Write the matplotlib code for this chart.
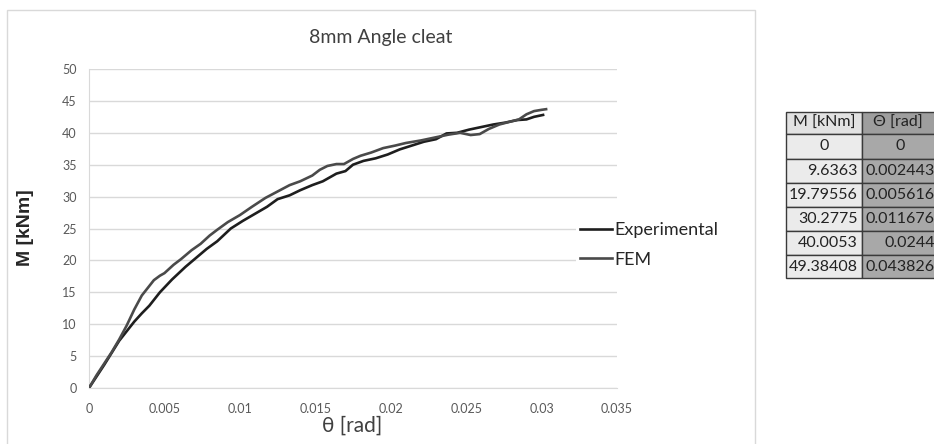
import matplotlib
matplotlib.use("Agg")
import matplotlib.pyplot as plt
from matplotlib.patches import Rectangle

plt.rcParams['font.family'] = ['Lato', 'DejaVu Sans']

# ---------------- data ----------------
exp_theta = [0, 0.0005, 0.001, 0.0015, 0.002, 0.0025, 0.003, 0.0035, 0.004, 0.0047,
             0.0055, 0.0064, 0.007, 0.0078, 0.0085, 0.0094, 0.0102, 0.011, 0.0118, 0.0125,
             0.0133, 0.014, 0.0148, 0.0155, 0.0164, 0.017, 0.0175, 0.0182, 0.019, 0.0198,
             0.0206, 0.0214, 0.0222, 0.023, 0.0237, 0.0244, 0.0252, 0.026, 0.0268, 0.0276,
             0.0284, 0.029, 0.0295, 0.0301]
exp_M = [0, 1.8, 3.6, 5.5, 7.4, 8.9, 10.4, 11.7, 12.9, 15.0,
         17.0, 19.0, 20.2, 21.8, 23.0, 25.0, 26.2, 27.3, 28.4, 29.6,
         30.2, 31.0, 31.8, 32.4, 33.6, 34.0, 35.0, 35.6, 36.0, 36.6,
         37.4, 38.0, 38.6, 39.0, 39.9, 40.0, 40.5, 40.9, 41.3, 41.6,
         42.0, 42.1, 42.5, 42.8]

fem_theta = [0, 0.0005, 0.001, 0.0015, 0.002, 0.0025, 0.003, 0.0035, 0.004, 0.0043,
             0.0047, 0.005, 0.0056, 0.0061, 0.0068, 0.0074, 0.008, 0.0085, 0.0092, 0.01,
             0.0108, 0.0117, 0.0125, 0.0133, 0.014, 0.0148, 0.0153, 0.0158, 0.0164, 0.0169,
             0.0175, 0.018, 0.0187, 0.0195, 0.0203, 0.021, 0.022, 0.023, 0.0238, 0.0246,
             0.0253, 0.0259, 0.0265, 0.0272, 0.028, 0.0285, 0.029, 0.0295, 0.03, 0.0303]
fem_M = [0, 2.0, 3.8, 5.6, 7.6, 9.8, 12.3, 14.5, 16.0, 16.9,
         17.6, 18.0, 19.3, 20.2, 21.6, 22.6, 23.9, 24.8, 26.0, 27.1,
         28.4, 29.8, 30.8, 31.8, 32.4, 33.3, 34.2, 34.8, 35.1, 35.1,
         35.9, 36.4, 36.9, 37.6, 38.0, 38.4, 38.8, 39.3, 39.7, 40.0,
         39.65, 39.8, 40.6, 41.3, 41.8, 42.1, 42.9, 43.4, 43.6, 43.7]

x_ticks = [0, 0.005, 0.01, 0.015, 0.02, 0.025, 0.03, 0.035]
x_ticklabels = ['0', '0.005', '0.01', '0.015', '0.02', '0.025', '0.03', '0.035']
y_ticks = [0, 5, 10, 15, 20, 25, 30, 35, 40, 45, 50]

table_header = ['M [kNm]', 'Θ [rad]']
table_M = ['0', '9.6363', '19.79556', '30.2775', '40.0053', '49.38408']
table_theta = ['0', '0.002443', '0.005616', '0.011676', '0.0244', '0.043826']

# ---------------- figure ----------------
W, H = 934, 444
fig = plt.figure(figsize=(W / 100, H / 100), dpi=100)
fig.patch.set_facecolor('white')

def fx(px):
    return px / W

def fy(py):
    return 1 - py / H

# chart frame
fig.add_artist(Rectangle((fx(7), fy(446)), fx(755) - fx(7), fy(10) - fy(446),
                         transform=fig.transFigure, fill=False,
                         edgecolor='#d9d9d9', linewidth=1.0))

ax = fig.add_axes([fx(89), fy(388), fx(617) - fx(89), fy(69) - fy(388)])
ax.plot(exp_theta, exp_M, color='#1e1e1e', linewidth=1.9, label='Experimental', zorder=3)
ax.plot(fem_theta, fem_M, color='#4a4a4a', linewidth=1.9, label='FEM', zorder=3)

ax.set_xlim(0, 0.035)
ax.set_ylim(0, 50)
ax.set_xticks(x_ticks)
ax.set_xticklabels(x_ticklabels)
ax.set_yticks(y_ticks)
ax.grid(axis='y', color='#d9d9d9', linewidth=1.0)
ax.set_axisbelow(True)
for s in ['top', 'right']:
    ax.spines[s].set_visible(False)
ax.spines['left'].set_color('#d9d9d9')
ax.spines['bottom'].set_color('#d9d9d9')
ax.tick_params(axis='both', length=0, labelsize=9, colors='#595959')
ax.tick_params(axis='x', pad=11)
ax.tick_params(axis='y', pad=9)

fig.text(fx(381), fy(37), '8mm Angle cleat', ha='center', va='center',
         fontsize=14, color='#404040')
fig.text(fx(352), fy(426), 'θ [rad]', ha='center', va='center',
         fontsize=15, color='#404040')
fig.text(fx(26), fy(228), 'M [kNm]', ha='center', va='center', rotation=90,
         fontsize=14, fontweight='bold', color='#262626',
         family=['Liberation Sans', 'DejaVu Sans'])

leg = ax.legend(loc='center left', bbox_to_anchor=(fx(576), fy(245)),
                bbox_transform=fig.transFigure, frameon=True, fontsize=13,
                handlelength=1.8, handletextpad=0.15, labelspacing=0.75,
                borderpad=0.2, borderaxespad=0)
leg.get_frame().set_facecolor('white')
leg.get_frame().set_edgecolor('none')
leg.get_frame().set_alpha(1)
for t in leg.get_texts():
    t.set_color('#262626')

# ---------------- table ----------------
col_x = [786, 862, 960]
row_y = [112, 134, 159, 183, 207, 231, 255, 278]
left_fill = '#ebebeb'
right_fill = '#a8a8a8'
for r in range(len(row_y) - 1):
    for c in range(2):
        fc = left_fill if c == 0 else right_fill
        if r == 0:
            fc = '#e2e2e2' if c == 0 else '#9e9e9e'
        fig.add_artist(Rectangle((fx(col_x[c]), fy(row_y[r + 1])),
                                 fx(col_x[c + 1]) - fx(col_x[c]),
                                 fy(row_y[r]) - fy(row_y[r + 1]),
                                 transform=fig.transFigure, facecolor=fc,
                                 edgecolor='#3a3a3a', linewidth=1.0))

def row_center(r):
    return fy((row_y[r] + row_y[r + 1]) / 2)

fs = 11.5
fig.text(fx(824), row_center(0), table_header[0], ha='center', va='center', fontsize=fs, color='#222222')
fig.text(fx(898), row_center(0), table_header[1], ha='center', va='center', fontsize=fs, color='#222222')
for i, (m, t) in enumerate(zip(table_M, table_theta)):
    r = i + 1
    if i == 0:
        fig.text(fx(824), row_center(r), m, ha='center', va='center', fontsize=fs, color='#222222')
        fig.text(fx(900), row_center(r), t, ha='center', va='center', fontsize=fs, color='#222222')
    else:
        fig.text(fx(858), row_center(r), m, ha='right', va='center', fontsize=fs, color='#222222')
        fig.text(fx(935), row_center(r), t, ha='right', va='center', fontsize=fs, color='#222222')

fig.savefig('out.png', dpi=100, facecolor='white')
